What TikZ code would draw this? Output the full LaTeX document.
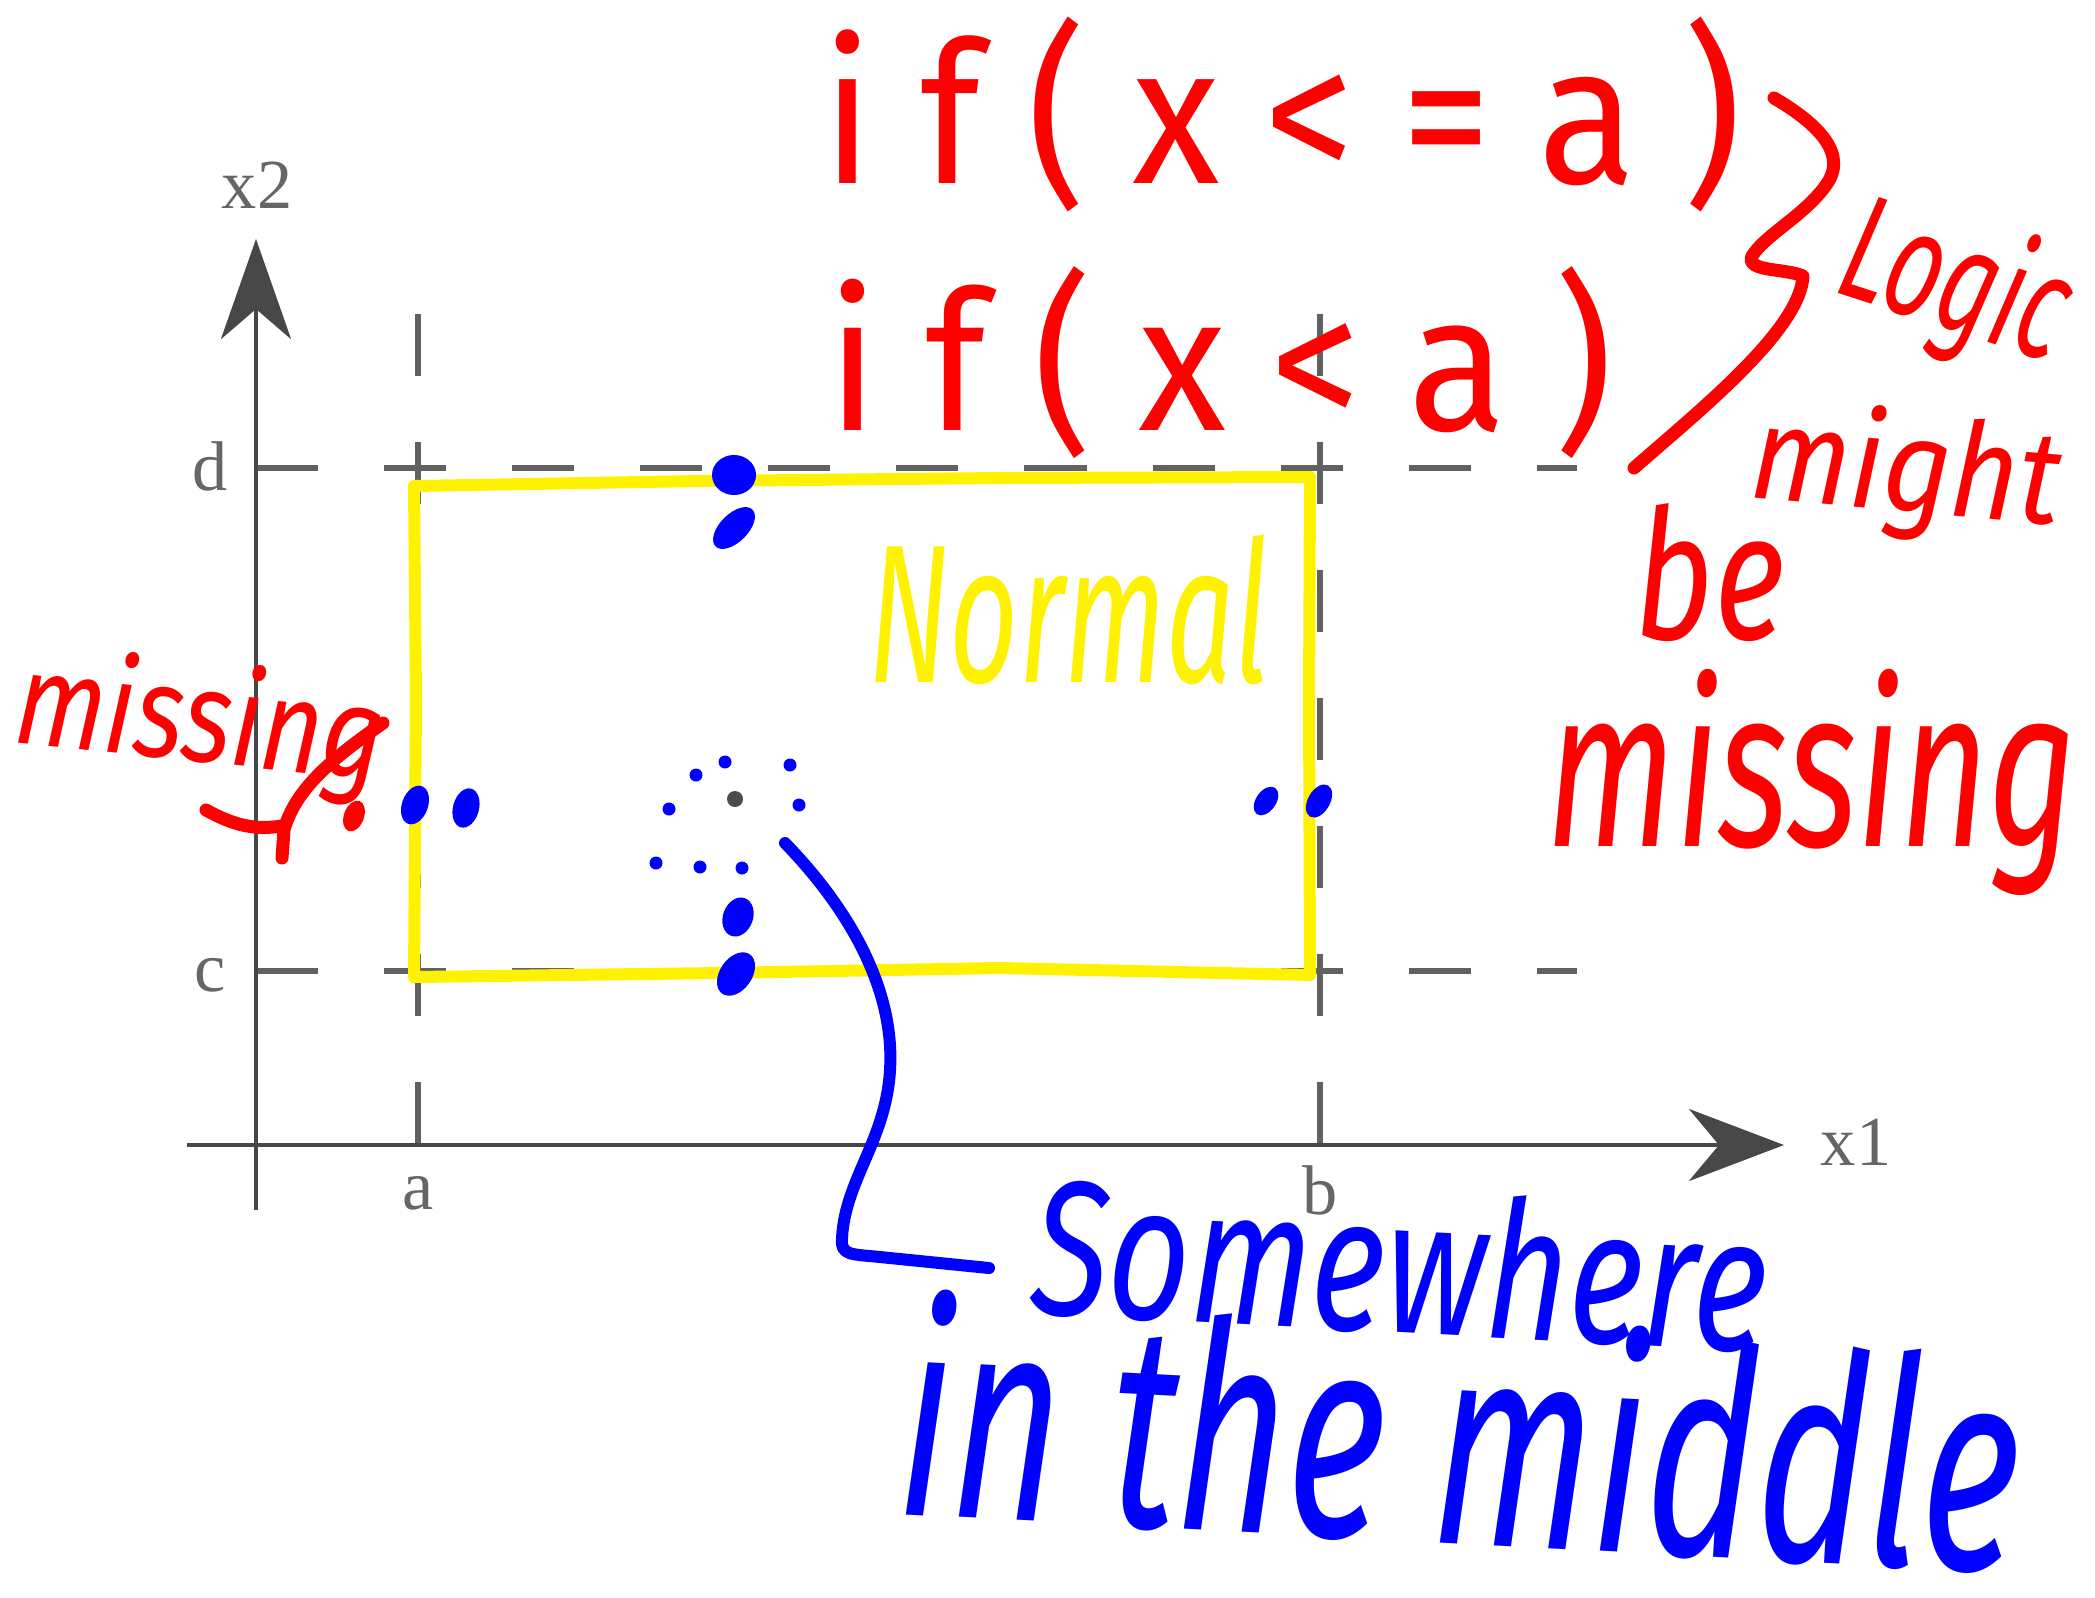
\documentclass[tikz,border=0pt]{standalone}
\usepackage{fontspec}
\setmainfont{Liberation Serif}
\newfontfamily\handfont{Fira Sans}
\newfontfamily\handwide{Fira Sans}[LetterSpace=26]
\usetikzlibrary{arrows.meta, positioning, calc}

\begin{document}
\begin{tikzpicture}[
  x=0.01cm, y=-0.01cm,
  axis/.style={draw=black!72, line width=1.3pt},
  guide/.style={draw=black!62, line width=1.6pt, dash pattern=on 0.62cm off 0.66cm},
  tick/.style={text=black!60, inner sep=0pt, font=\fontsize{20}{24}\selectfont},
  box/.style={draw=yellow, line width=0.12cm, line join=round, line cap=round},
  redink/.style={draw=red, line width=0.13cm, line cap=round, line join=round},
  blueink/.style={draw=blue, line width=0.12cm, line cap=round, line join=round},
  hand/.style={inner sep=0pt, font=\handfont}
]
  \useasboundingbox (0,0) rectangle (2095,1597);

  % grid of the plot
  \draw[guide] (256,468) -- (1577,468);
  \draw[guide] (256,971) -- (1577,971);
  \draw[guide] (418,314) -- (418,1145);
  \draw[guide] (1320,314) -- (1320,1145);

  \coordinate (ybot) at (256,1210);
  \coordinate (ytop) at (256,239);
  \coordinate (xleft) at (187,1145);
  \coordinate (xright) at (1784,1145);
  \draw[axis, -{Stealth[length=1cm, width=0.7cm, inset=0.3cm]}] (ybot) -- (ytop);
  \draw[axis, -{Stealth[length=0.95cm, width=0.72cm, inset=0.3cm]}] (xleft) -- (xright);

  \node[tick] (x2lab) at (257,185) {x2};
  \node[tick] (x1lab) at (1856,1142) {x1};
  \node[tick] (dlab) at (210,466) {d};
  \node[tick] (clab) at (210,975) {c};
  \node[tick] (alab) at (418,1193) {a};
  \node[tick] (blab) at (1320,1190) {b};

  \fill[black!70] (735,799) circle [radius=0.08cm];

  % yellow region
  \draw[box] (414,486) -- (700,481) -- (1000,478) -- (1310,477) -- (1309,700)
    -- (1310,975) -- (1000,968) -- (720,973) -- (414,977) -- (416,700) -- cycle;
  \node[hand, text=yellow] (normal) at (1069,610)
    {\resizebox*{4.0cm}{1.5cm}{\itshape Normal}};

  % blue marks
  \fill[blue] (734,475) ellipse [x radius=0.22cm, y radius=0.2cm];
  \fill[blue, rotate around={45:(734,528)}] (734,528) ellipse [x radius=0.26cm, y radius=0.14cm];
  \fill[blue, rotate around={70:(738,917)}] (738,917) ellipse [x radius=0.2cm, y radius=0.15cm];
  \fill[blue, rotate around={55:(736,974)}] (736,974) ellipse [x radius=0.24cm, y radius=0.16cm];
  \fill[blue, rotate around={55:(1266,801)}] (1266,801) ellipse [x radius=0.16cm, y radius=0.1cm];
  \fill[blue, rotate around={60:(1319,801)}] (1319,801) ellipse [x radius=0.18cm, y radius=0.11cm];
  \fill[blue, rotate around={70:(415,805)}] (415,805) ellipse [x radius=0.2cm, y radius=0.13cm];
  \fill[blue, rotate around={75:(466,808)}] (466,808) ellipse [x radius=0.2cm, y radius=0.13cm];
  \foreach \p in {(725,762),(790,765),(696,775),(669,809),(799,805),(656,863),(700,867),(742,868)}
    \fill[blue] \p circle [radius=0.065cm];

  \coordinate (lead) at (785,843);
  \coordinate (leadend) at (989,1268);
  \draw[blueink] (lead) .. controls (850,910) and (895,990) .. (890,1070)
    .. controls (886,1140) and (845,1180) .. (842,1238)
    .. controls (840,1256) and (852,1254) .. (880,1257) -- (leadend);
  \node[hand, text=blue, rotate=-3] (where) at (1400,1262)
    {\resizebox*{7.35cm}{1.46cm}{\itshape Somewhere}};
  \node[hand, text=blue, rotate=-3] (middle) at (1461,1432)
    {\resizebox*{11.2cm}{2.3cm}{\itshape in the middle}};

  % red notes
  \node[hand, text=red] (cond1) at (1282,115) {\resizebox*{9.18cm}{1.95cm}{\handwide if(x<=a)}};
  \node[hand, text=red] (cond2) at (1220,363) {\resizebox*{7.85cm}{1.92cm}{\handwide if(x<a)}};
  \draw[redink] (1774,98) .. controls (1820,125) and (1848,155) .. (1826,185)
    .. controls (1805,215) and (1765,235) .. (1752,256)
    .. controls (1745,272) and (1785,268) .. (1803,276)
    .. controls (1800,330) and (1700,410) .. (1634,468);
  \node[hand, text=red, rotate=-18] (logic) at (1955,287)
    {\resizebox*{2.3cm}{1.5cm}{\itshape Logic}};
  \node[hand, text=red, rotate=-5] (might) at (1906,474)
    {\resizebox*{3.1cm}{1.32cm}{\itshape might}};
  \node[hand, text=red] (be) at (1710,573) {\resizebox*{1.5cm}{1.38cm}{\itshape be}};
  \node[hand, text=red] (miss) at (1812,782)
    {\resizebox*{5.3cm}{2.26cm}{\itshape missing}};

  \node[hand, text=red, rotate=-6] (missleft) at (200,725)
    {\resizebox*{3.7cm}{1.3cm}{\itshape missing}};
  \draw[redink] (383,723) .. controls (330,760) and (295,790) .. (284,830) -- (282,858);
  \draw[redink] (206,810) .. controls (235,826) and (255,830) .. (282,826);
  \fill[red, rotate around={70:(354,816)}] (354,816) ellipse [x radius=0.16cm, y radius=0.1cm];
\end{tikzpicture}
\end{document}
